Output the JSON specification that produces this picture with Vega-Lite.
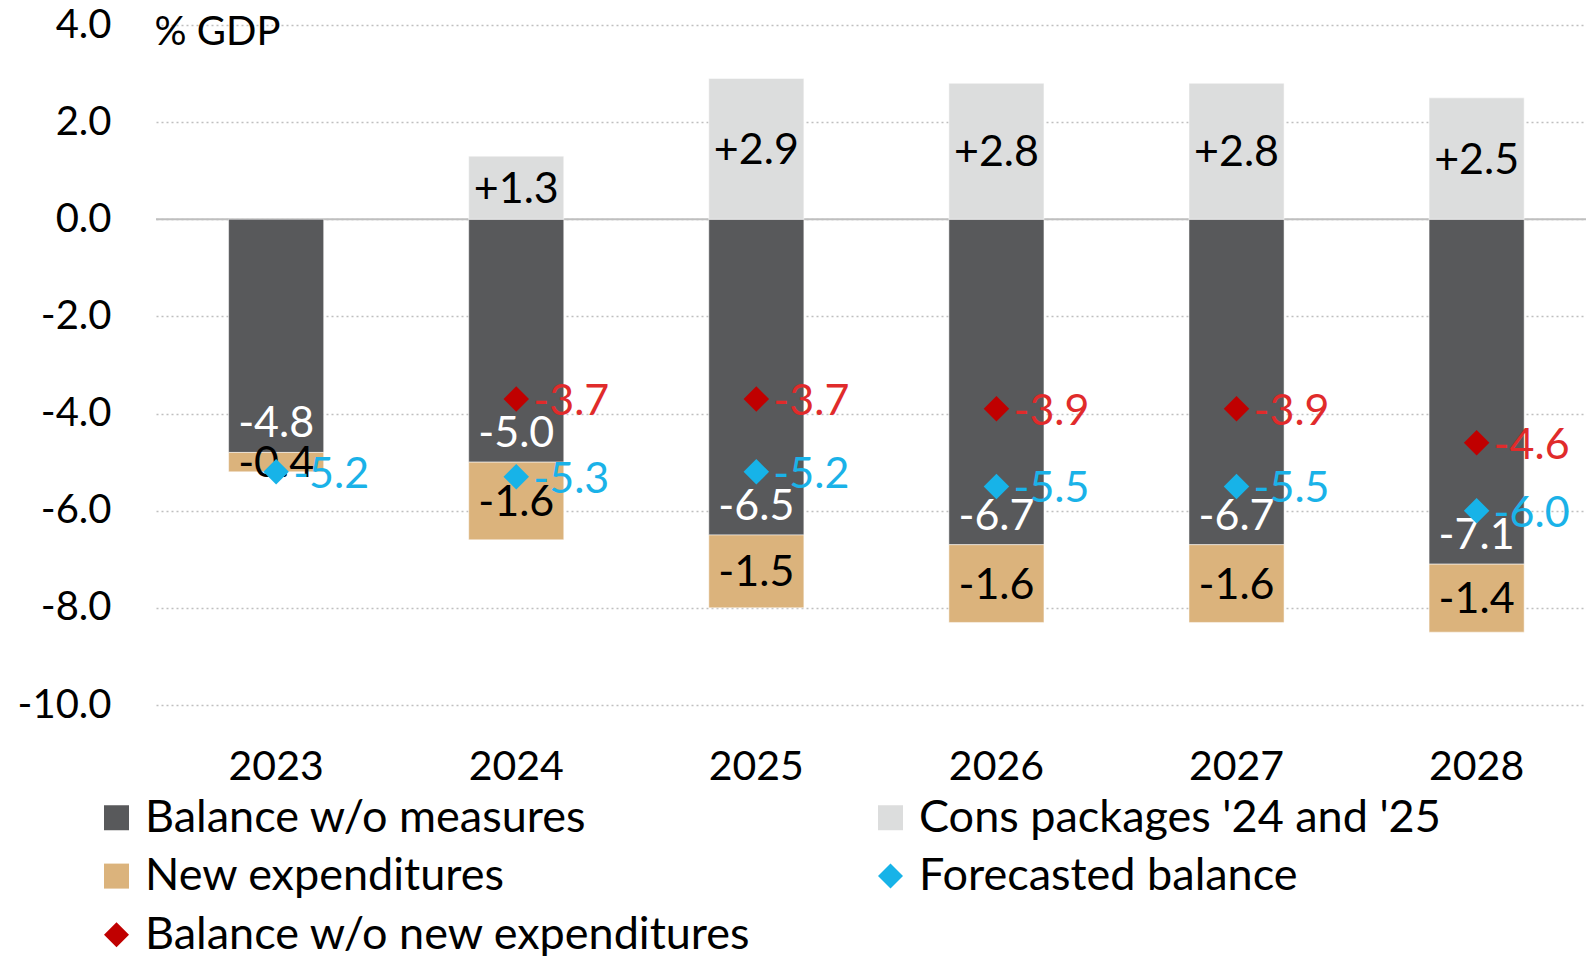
{
  "$schema": "https://vega.github.io/schema/vega-lite/v6.json",
  "width": 1430,
  "height": 680,
  "autosize": {"type": "none"},
  "padding": {"left": 156, "top": 25, "right": 0, "bottom": 251},
  "background": "white",
  "config": {
    "font": "Lato",
    "view": {"stroke": null},
    "locale": {"number": {"decimal": ".", "thousands": ",", "grouping": [3], "currency": ["$", ""], "minus": "-"}}
  },
  "datasets": {
    "main": [
      {"year": "2023", "series": "Balance w/o measures", "value": -4.8},
      {"year": "2024", "series": "Balance w/o measures", "value": -5.0},
      {"year": "2025", "series": "Balance w/o measures", "value": -6.5},
      {"year": "2026", "series": "Balance w/o measures", "value": -6.7},
      {"year": "2027", "series": "Balance w/o measures", "value": -6.7},
      {"year": "2028", "series": "Balance w/o measures", "value": -7.1},
      {"year": "2023", "series": "New expenditures", "value": -0.4},
      {"year": "2024", "series": "New expenditures", "value": -1.6},
      {"year": "2025", "series": "New expenditures", "value": -1.5},
      {"year": "2026", "series": "New expenditures", "value": -1.6},
      {"year": "2027", "series": "New expenditures", "value": -1.6},
      {"year": "2028", "series": "New expenditures", "value": -1.4},
      {"year": "2024", "series": "Cons packages '24 and '25", "value": 1.3},
      {"year": "2025", "series": "Cons packages '24 and '25", "value": 2.9},
      {"year": "2026", "series": "Cons packages '24 and '25", "value": 2.8},
      {"year": "2027", "series": "Cons packages '24 and '25", "value": 2.8},
      {"year": "2028", "series": "Cons packages '24 and '25", "value": 2.5},
      {"year": "2023", "series": "Forecasted balance", "value": -5.2},
      {"year": "2024", "series": "Forecasted balance", "value": -5.3},
      {"year": "2025", "series": "Forecasted balance", "value": -5.2},
      {"year": "2026", "series": "Forecasted balance", "value": -5.5},
      {"year": "2027", "series": "Forecasted balance", "value": -5.5},
      {"year": "2028", "series": "Forecasted balance", "value": -6.0},
      {"year": "2024", "series": "Balance w/o new expenditures", "value": -3.7},
      {"year": "2025", "series": "Balance w/o new expenditures", "value": -3.7},
      {"year": "2026", "series": "Balance w/o new expenditures", "value": -3.9},
      {"year": "2027", "series": "Balance w/o new expenditures", "value": -3.9},
      {"year": "2028", "series": "Balance w/o new expenditures", "value": -4.6}
    ]
  },
  "data": {"name": "main"},
  "encoding": {
    "x": {
      "field": "year", "type": "ordinal",
      "scale": {"type": "band", "paddingInner": 0.604, "paddingOuter": 0.28, "align": 0.54},
      "axis": {"title": null, "domain": false, "ticks": false, "grid": false, "labelAngle": 0,
               "labelFontSize": 41, "labelColor": "black", "labelPadding": 42, "labelFont": "Lato"}
    }
  },
  "layer": [
    {
      "data": {"values": [{"z": 0}]},
      "mark": {"type": "rule", "color": "#bfbfbf", "strokeWidth": 2},
      "encoding": {"y": {"field": "z", "type": "quantitative"}, "x": {"value": 0}, "x2": {"value": 1430}}
    },
    {
      "transform": [
        {"filter": "indexof(['Balance w/o measures','New expenditures',\"Cons packages '24 and '25\"], datum.series) >= 0"},
        {"calculate": "indexof(['Balance w/o measures','New expenditures',\"Cons packages '24 and '25\"], datum.series)", "as": "so"},
        {"stack": "value", "groupby": ["year"], "sort": [{"field": "so", "order": "ascending"}], "as": ["v0", "v1"]}
      ],
      "mark": {"type": "bar", "stroke": "white", "strokeWidth": 0.5},
      "encoding": {
        "y": {"field": "v0", "type": "quantitative",
              "scale": {"domain": [-10, 4], "nice": false, "zero": false},
              "axis": {"values": [-10, -8, -6, -4, -2, 0, 2, 4], "format": ".1f", "domain": false, "ticks": false,
                       "grid": true, "gridDash": [2, 3], "gridColor": "#bfbfbf", "gridWidth": 1.5,
                       "labelFontSize": 40, "labelColor": "black", "labelPadding": 45, "labelFont": "Lato",
                       "title": "% GDP", "titleAngle": 0, "titleAlign": "left", "titleBaseline": "middle",
                       "titleX": -2, "titleY": 7, "titleFontSize": 40, "titleFontWeight": "normal", "titleFont": "Lato", "titleColor": "black"}},
        "y2": {"field": "v1"},
        "color": {
          "field": "series", "type": "nominal",
          "scale": {
            "domain": ["Balance w/o measures", "New expenditures", "Balance w/o new expenditures", "Cons packages '24 and '25", "Forecasted balance"],
            "range": ["#58595b", "#dbb37c", "#c00000", "#dcdddd", "#17b3e8"]
          },
          "legend": {"title": null, "orient": "none", "legendX": -62, "legendY": 770, "columns": 2,
                     "labelFontSize": 45, "labelFont": "Lato", "labelColor": "black", "symbolSize": 625,
                     "labelOffset": 6, "columnPadding": 116, "rowPadding": 12.6, "labelLimit": 800, "symbolStrokeWidth": 0}
        }
      }
    },
    {
      "transform": [
        {"filter": "indexof(['Balance w/o measures','New expenditures',\"Cons packages '24 and '25\"], datum.series) >= 0"},
        {"calculate": "indexof(['Balance w/o measures','New expenditures',\"Cons packages '24 and '25\"], datum.series)", "as": "so"},
        {"stack": "value", "groupby": ["year"], "sort": [{"field": "so", "order": "ascending"}], "as": ["v0", "v1"]},
        {"calculate": "(datum.v0 + datum.v1) / 2", "as": "mid"},
        {"filter": "datum.series !== 'Balance w/o measures'"}
      ],
      "mark": {"type": "text", "fontSize": 43, "color": "black", "baseline": "middle", "align": "center", "font": "Lato", "dy": 2},
      "encoding": {
        "y": {"field": "mid", "type": "quantitative"},
        "text": {"condition": {"test": "datum.value > 0", "field": "value", "format": "+.1f"}, "field": "value", "format": ".1f"}
      }
    },
    {
      "transform": [
        {"filter": "datum.series === 'Balance w/o measures'"}
      ],
      "mark": {"type": "text", "fontSize": 43, "color": "white", "baseline": "bottom", "align": "center", "dy": -6, "font": "Lato"},
      "encoding": {
        "y": {"field": "value", "type": "quantitative"},
        "text": {"field": "value", "format": ".1f"}
      }
    },
    {
      "transform": [
        {"filter": "datum.series === 'Forecasted balance' || datum.series === 'Balance w/o new expenditures'"}
      ],
      "mark": {"type": "point", "filled": true, "size": 650, "opacity": 1},
      "encoding": {
        "y": {"field": "value", "type": "quantitative"},
        "color": {"field": "series", "type": "nominal"},
        "shape": {
          "field": "series", "type": "nominal",
          "scale": {
            "domain": ["Balance w/o measures", "New expenditures", "Balance w/o new expenditures", "Cons packages '24 and '25", "Forecasted balance"],
            "range": ["square", "square", "diamond", "square", "diamond"]
          },
          "legend": {"title": null}
        }
      }
    },
    {
      "transform": [
        {"filter": "datum.series === 'Forecasted balance' || datum.series === 'Balance w/o new expenditures'"}
      ],
      "mark": {"type": "text", "fontSize": 43, "align": "left", "baseline": "middle", "dx": 17, "dy": 3, "font": "Lato"},
      "encoding": {
        "y": {"field": "value", "type": "quantitative"},
        "text": {"field": "value", "format": ".1f"},
        "color": {"condition": {"test": "datum.series === 'Forecasted balance'", "value": "#1ab2e8"}, "value": "#e02b2b"}
      }
    }
  ]
}
